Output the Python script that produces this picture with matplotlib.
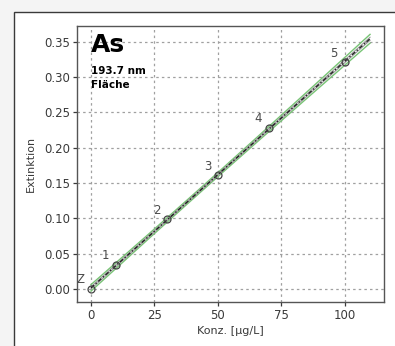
import numpy as np
import matplotlib
matplotlib.use("Agg")
import matplotlib.pyplot as plt
from matplotlib.patches import Rectangle

# data
conc = [0, 10, 30, 50, 70, 100]
ext = [0.000, 0.034, 0.099, 0.161, 0.228, 0.321]
labels = ["Z", "1", "2", "3", "4", "5"]
xticks = [0, 25, 50, 75, 100]
yticks = [0.00, 0.05, 0.10, 0.15, 0.20, 0.25, 0.30, 0.35]

W, H = 395, 346
fig = plt.figure(figsize=(W / 100, H / 100), dpi=100)
fig.patch.set_facecolor("#f4f4f4")
fig.patches.append(Rectangle((14 / W, -0.1), 1.2, 1 - 12 / H + 0.1, transform=fig.transFigure,
                             facecolor="white", edgecolor="#3a3a3a", linewidth=1.0, zorder=-10))

ax = fig.add_axes([77 / W, 1 - 302 / H, (384 - 77) / W, (302 - 26) / H])
ax.set_zorder(1)
ax.set_xlim(-5.5, 115.5)
ax.set_ylim(-0.0185, 0.3725)

# regression and confidence band (hyperbolic shape)
x = np.array(conc, float)
y = np.array(ext, float)
b, a = np.polyfit(x, y, 1)
n = len(x)
xm = x.mean()
sxx = np.sum((x - xm) ** 2)
xf = np.linspace(0, 110, 200)
yf = a + b * xf
shape = np.sqrt(1 / n + (xf - xm) ** 2 / sxx)
band_end = 0.0062
green = shape / shape[-1] * band_end
inner = green * 0.35

ax.plot(xf, yf + green, color="#78c475", lw=1.0, zorder=3)
ax.plot(xf, yf - green, color="#78c475", lw=1.0, zorder=3)
ax.plot(xf, yf + inner, color="#9a9a9a", lw=0.8, zorder=3)
ax.plot(xf, yf - inner, color="#9a9a9a", lw=0.8, zorder=3)
ax.plot(xf, yf, color="#222222", lw=1.0, ls=(0, (3, 1.5, 1, 1.5)), zorder=4)

ax.plot(conc, ext, ls="none", marker="o", ms=5, mfc="none", mec="#444444", mew=0.9, zorder=5)
for xi, yi, lab in zip(conc, ext, labels):
    ax.annotate(lab, (xi, yi), xytext=(-7.5, 6.5), textcoords="offset points",
                ha="center", va="center", fontsize=8.5, color="#4a4a4a")

ax.set_xticks(xticks)
ax.set_yticks(yticks)
ax.set_yticklabels([f"{v:.2f}" for v in yticks])
ax.grid(True, color="#a0a0a0", lw=0.9, ls=(0, (2, 2.5)))
ax.set_axisbelow(True)
ax.tick_params(direction="out", length=3, width=0.9, colors="#3a3a3a", labelsize=8.5, pad=2)
for sp in ax.spines.values():
    sp.set_color("#555555")
    sp.set_linewidth(1.0)

ax.set_xlabel("Konz. [µg/L]", fontsize=8, color="#3a3a3a", labelpad=3)
ax.set_ylabel("Extinktion", fontsize=8, color="#3a3a3a", labelpad=6)

ax.text(0.045, 0.975, "As", transform=ax.transAxes, fontsize=18, fontweight="bold",
        ha="left", va="top", color="black")
ax.text(0.045, 0.855, "193.7 nm", transform=ax.transAxes, fontsize=7.5, fontweight="bold",
        ha="left", va="top", color="black")
ax.text(0.045, 0.805, "Fläche", transform=ax.transAxes, fontsize=7.5, fontweight="bold",
        ha="left", va="top", color="black")

fig.savefig("out.png", dpi=100, facecolor=fig.get_facecolor())
